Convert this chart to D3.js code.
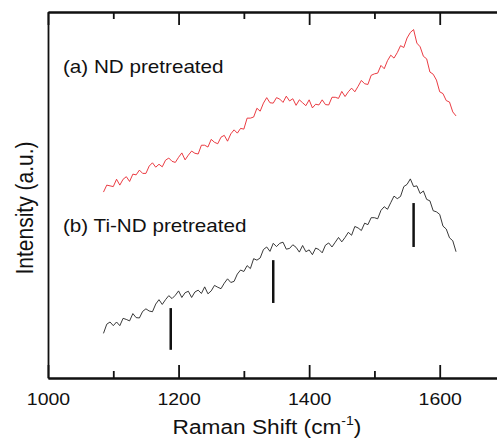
<!DOCTYPE html>
<html>
<head>
<meta charset="utf-8">
<script src="https://cdn.jsdelivr.net/npm/d3@7"></script>
<style>
  body { margin: 0; background: #fff; }
  text { font-family: Arial, "Liberation Sans", sans-serif; fill: #111; }
</style>
</head>
<body>
<svg id="chart" width="497" height="439"></svg>
<script>
const width = 497;
const height = 439;

// Raman shift sampling (cm-1) and intensities (a.u.)
const shifts = d3.range(1085, 1626, 5);
const ndPretreated = [
  50.8, 52.7, 52.5, 52.3, 54.3, 52.7, 54.3, 55.0, 53.7, 55.7,
  55.5, 56.8, 55.9, 55.9, 57.9, 58.8, 57.6, 58.4, 57.7, 59.5,
  60.1, 59.2, 58.9, 60.3, 61.5, 59.6, 60.9, 62.0, 61.4, 61.2,
  63.6, 63.6, 63.1, 65.2, 64.4, 64.0, 65.8, 66.3, 64.7, 66.7,
  67.8, 66.9, 68.2, 68.0, 71.0, 71.0, 71.3, 73.7, 72.9, 75.1,
  76.6, 75.2, 75.1, 76.6, 76.2, 75.3, 77.0, 75.7, 76.3, 74.5,
  76.0, 75.2, 74.4, 76.0, 73.8, 74.8, 74.6, 76.0, 74.7, 74.6,
  76.7, 76.7, 76.4, 78.3, 76.9, 78.2, 79.2, 78.2, 79.7, 81.3,
  80.4, 80.2, 82.7, 83.1, 83.3, 85.4, 84.5, 86.7, 88.2, 87.4,
  88.9, 90.8, 90.3, 92.9, 94.4, 95.2, 91.5, 90.5, 87.9, 87.2,
  83.6, 83.0, 81.4, 78.2, 77.7, 75.8, 75.4, 72.7, 71.6
];
const tiNdPretreated = [
  12.2, 14.7, 15.3, 14.3, 15.3, 14.3, 16.3, 16.0, 15.6, 17.6,
  16.5, 16.4, 18.2, 18.9, 18.3, 18.1, 20.2, 21.4, 20.1, 21.4,
  22.5, 21.7, 22.6, 23.8, 22.0, 23.3, 23.7, 22.0, 23.5, 24.0,
  23.1, 24.9, 23.0, 23.8, 25.3, 24.8, 24.4, 25.9, 27.1, 26.1,
  26.4, 28.4, 29.5, 29.1, 30.7, 29.9, 32.6, 32.2, 32.8, 35.1,
  35.8, 34.6, 36.8, 35.9, 36.8, 37.1, 35.2, 35.4, 36.4, 35.7,
  34.4, 36.2, 34.5, 35.0, 33.7, 35.5, 35.1, 34.2, 36.3, 36.9,
  35.8, 37.1, 38.4, 37.2, 38.4, 39.8, 39.0, 41.4, 41.0, 40.3,
  42.3, 41.9, 43.8, 43.8, 43.5, 45.8, 46.8, 46.1, 47.9, 49.7,
  49.0, 49.6, 52.3, 52.9, 54.4, 52.3, 52.5, 50.4, 51.1, 48.8,
  48.4, 45.7, 45.4, 44.7, 41.5, 40.7, 38.3, 37.5, 34.5
];

// vertical band markers under curve (b)
const markerShifts = [1188, 1345, 1560];
const markerTops = [19.1, 32.2, 47.8];
const markerBottoms = [7.7, 20.5, 35.8];

const majorTicks = [1000, 1200, 1400, 1600];
const minorTicks = [1100, 1300, 1500, 1700];

const sx = 1.18; // glyphs in the figure are a bit wider than normal

const svg = d3.select("#chart");

const x = d3.scaleLinear().domain([1000, 1700]).range([48, 505]);
const y = d3.scaleLinear().domain([0, 100]).range([378, 12]);

const line = d3
  .line()
  .x((d) => x(d[0]))
  .y((d) => y(d[1]));

svg
  .append("path")
  .datum(shifts.map((s, i) => [s, ndPretreated[i]]))
  .attr("d", line)
  .attr("fill", "none")
  .attr("stroke", "#e8262e")
  .attr("stroke-width", 0.9)
  .attr("stroke-linejoin", "round");

svg
  .append("path")
  .datum(shifts.map((s, i) => [s, tiNdPretreated[i]]))
  .attr("d", line)
  .attr("fill", "none")
  .attr("stroke", "#222")
  .attr("stroke-width", 0.9)
  .attr("stroke-linejoin", "round");

svg
  .append("g")
  .selectAll("line")
  .data(markerShifts)
  .enter()
  .append("line")
  .attr("x1", (d) => x(d))
  .attr("x2", (d) => x(d))
  .attr("y1", (d, i) => y(markerTops[i]))
  .attr("y2", (d, i) => y(markerBottoms[i]))
  .attr("stroke", "#111")
  .attr("stroke-width", 2.5);

// frame: ticks point inwards on bottom and top
const bottomMajor = svg
  .append("g")
  .attr("transform", `translate(0,${y(0)})`)
  .call(
    d3.axisBottom(x).tickValues(majorTicks).tickSize(-13).tickSizeOuter(0)
      .tickPadding(15).tickFormat(d3.format("d"))
  );
bottomMajor
  .selectAll("text")
  .attr("font-size", 16.5)
  .attr("font-family", "Arial, 'Liberation Sans', sans-serif")
  .attr("fill", "#111")
  .attr("transform", `scale(${sx},1)`);

svg
  .append("g")
  .attr("transform", `translate(0,${y(0)})`)
  .call(d3.axisBottom(x).tickValues(minorTicks).tickSize(-7).tickSizeOuter(0).tickFormat(""));

svg
  .append("g")
  .attr("transform", `translate(0,${y(100)})`)
  .call(d3.axisTop(x).tickValues(majorTicks).tickSize(-13).tickSizeOuter(0).tickFormat(""));

svg
  .append("g")
  .attr("transform", `translate(0,${y(100)})`)
  .call(d3.axisTop(x).tickValues(minorTicks).tickSize(-7).tickSizeOuter(0).tickFormat(""));

svg
  .append("g")
  .attr("transform", `translate(${x(1000)},0)`)
  .call(d3.axisLeft(y).tickValues([]).tickSizeOuter(0));

svg.selectAll(".domain, .tick line").attr("stroke", "#111").attr("stroke-width", 1.8);

// titles
const xTitle = svg
  .append("text")
  .attr("transform", `translate(267,434) scale(1.08,1)`)
  .attr("text-anchor", "middle")
  .attr("font-size", 21);
xTitle.append("tspan").text("Raman Shift (cm");
xTitle.append("tspan").attr("font-size", 13).attr("dy", -9).text("-1");
xTitle.append("tspan").attr("dy", 9).text(")");

svg
  .append("text")
  .attr("transform", `translate(25,208) rotate(-90) scale(1,1.12)`)
  .attr("text-anchor", "middle")
  .attr("dy", "0.35em")
  .attr("font-size", 21)
  .text("Intensity (a.u.)");

svg
  .append("text")
  .attr("transform", `translate(63,73) scale(${sx},1)`)
  .attr("font-size", 17.5)
  .text("(a) ND pretreated");

svg
  .append("text")
  .attr("transform", `translate(63,232) scale(${sx},1)`)
  .attr("font-size", 17.5)
  .text("(b) Ti-ND pretreated");
</script>
</body>
</html>
